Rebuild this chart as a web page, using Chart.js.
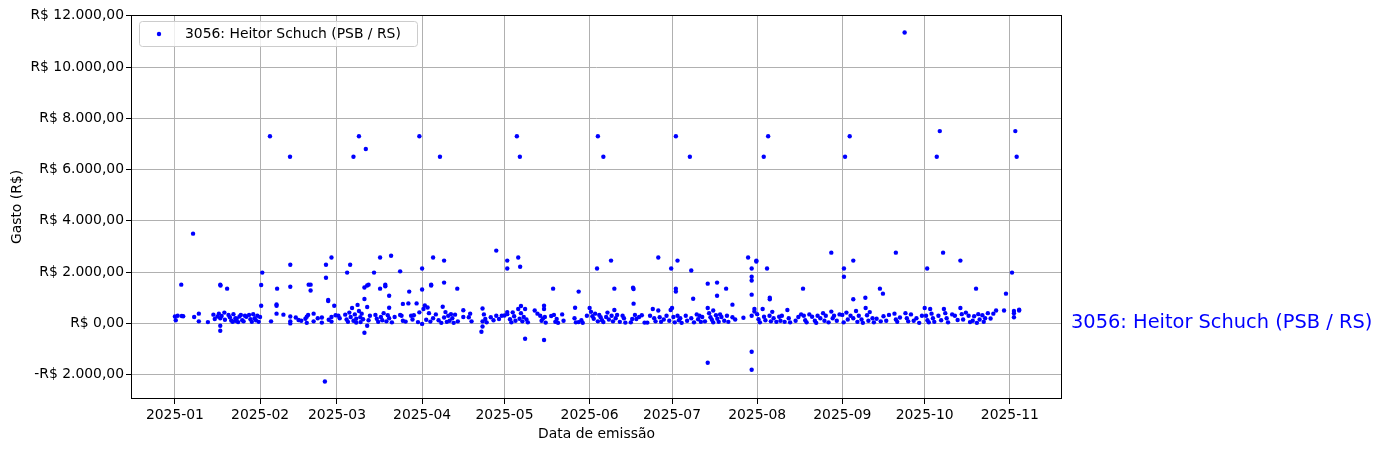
<!DOCTYPE html>
<html>
<head>
<meta charset="utf-8">
<script src="https://cdn.jsdelivr.net/npm/chart.js@4"></script>
<style>
  html, body { margin: 0; padding: 0; background: #fff; }
  #wrap { width: 1383px; height: 452px; position: relative; }
</style>
</head>
<body>
<div id="wrap"><canvas id="grafico"></canvas></div>
<script>
// Series label
const rotuloSerie = '3056: Heitor Schuch (PSB / RS)';

// X ticks: days since 2025-01-01 of each month start, and their labels
const inicioMeses = [0, 31, 59, 90, 120, 151, 181, 212, 243, 273, 304];
const rotulosMeses = ['2025-01', '2025-02', '2025-03', '2025-04', '2025-05', '2025-06',
    '2025-07', '2025-08', '2025-09', '2025-10', '2025-11'];

// Y ticks (R$)
const ticksGasto = [-2000, 0, 2000, 4000, 6000, 8000, 10000, 12000];

// Points per month: [days since 2025-01-01, amount in R$]
const pontosJan = [
    [2.3, 1510], [6.6, 3500], [16.5, 1510], [16.6, 1480], [19, 1355],
    [0, 270], [0.3, 120], [1, 300], [2.5, 290], [3, 280], [7, 250], [8.7, 380], [8.7, 80],
    [12, 50], [14, 340], [14.5, 170], [15.5, 270], [16, 380], [16.5, 200], [17, 290],
    [18, 420], [18.2, 140], [16.5, -90], [16.5, -285], [19.5, 330], [20, 240], [20.5, 110],
    [21, 60], [21.3, 360], [22, 100], [22, 200], [22.5, 180], [23, 50], [23.5, 270],
    [24, 330], [24.5, 120], [25, 80], [25.5, 300], [26, 260], [27, 330], [27.5, 160],
    [28, 60], [28.5, 360], [29, 200], [29.5, 120], [30, 300], [30.5, 60], [31, 250],
    [31.4, 690], [31.4, 1500], [31.8, 1980]
];
const pontosFev = [
    [34.6, 7300], [35, 80], [37, 380], [37, 740], [37.2, 1355], [37, 690], [41.9, 6500],
    [42, 2290], [42, 1430], [39.5, 340], [42, 270], [42, 80], [42, 0], [44, 230], [45, 130],
    [46, 100], [47.5, 180], [48, 260], [48.5, 330], [48, 20], [48.7, 1510], [49.4, 1510],
    [49.4, 1280], [50.5, 380], [50.5, 80], [52, 200], [53.5, 230], [53.5, 30],
    [54.6, -2270], [55, 2290], [55, 1780], [55.8, 910], [55.8, 870], [56, 140],
    [57, 2570], [57, 250], [57, 70], [58, 690], [58.5, 320]
];
const pontosMar = [
    [59.5, 300], [60, 200], [62.7, 1980], [63.8, 2290], [62, 340], [62.5, 150], [63, 60],
    [63.5, 420], [64, 250], [64.5, 600], [65, 100], [65, 6500], [65.5, 350], [66, 180],
    [66, 30], [66.5, 720], [67, 7300], [67, 480], [67.5, 240], [67.6, 50], [68, 380],
    [68.5, 160], [69, 950], [69, 1400], [69.5, 6800], [70.5, 1510], [70, 1480], [69, -365],
    [70, -90], [70, 640], [70.5, 120], [71, 300], [72.5, 1980], [73, 330], [73.5, 180],
    [74, 60], [74.7, 2570], [74.7, 1355], [75, 250], [75.5, 120], [76, 400], [76.6, 1510],
    [76.6, 1450], [77, 80], [77.5, 320], [78, 1080], [78, 610], [78.7, 2640], [78, 200],
    [79, 40], [80, 250], [82, 2030], [82, 330], [82.5, 300], [83, 100], [84, 70],
    [85.3, 1240], [85, 780], [83, 760], [86, 300], [86.5, 150], [87, 320], [88, 780],
    [89, 7300], [89, 430], [88.5, 50]
];
const pontosAbr = [
    [90, 2140], [90, 1320], [90, -20], [90.5, 560], [91, 700], [91.5, 140], [92, 620],
    [92.5, 400], [93, 70], [93.3, 1510], [93.3, 1480], [94, 2570], [94, 200], [95, 350],
    [96, 120], [96.5, 6500], [97, 20], [97.5, 650], [98, 2450], [98, 1590], [98, 230],
    [98.5, 440], [99, 60], [99.5, 300], [100, 100], [100.5, 360], [101, 200], [101.5, 20],
    [102.8, 1355], [102, 340], [103, 80], [105, 510], [105, 250], [107, 240], [107.5, 380],
    [108, 80], [111.6, -325], [112, -120], [112, 80], [112, 580], [112.5, 350], [113, 170],
    [113.5, 40], [115, 240], [116, 120], [117, 2840], [117, 300], [118, 170], [119, 300]
];
const pontosMai = [
    [121, 2450], [121, 2140], [121, 440], [121, 360], [120, 310], [122, 160], [122.5, 40],
    [123, 430], [123.5, 280], [124, 100], [124.5, 7300], [125, 2570], [125, 560],
    [125.5, 180], [125.6, 6500], [125.7, 2210], [126, 680], [126, 400], [126.5, 80],
    [127, 250], [127.5, -600], [127.5, 560], [128, 150], [128.5, 40], [131, 500],
    [132, 380], [133, 300], [133.5, 100], [134, 190], [134.4, 690], [134.4, 560],
    [134.4, -650], [134.7, 250], [135, 30], [137, 290], [137.7, 1355], [138, 330],
    [138.5, 60], [139, 170], [139.5, 20], [141, 350], [141.5, 100], [145.7, 610],
    [145.5, 200], [146, 40], [147, 1240], [147, 50], [148, 120], [148.5, 20], [150, 300]
];
const pontosJun = [
    [151, 600], [151.5, 450], [152, 280], [152.5, 180], [153, 380], [153.7, 2140],
    [154, 7300], [154, 80], [154.5, 330], [155, 240], [155.5, 120], [156, 6500], [156, 50],
    [157, 250], [157.5, 420], [158, 150], [158.8, 2450], [159, 300], [159.5, 80],
    [160, 1355], [160, 520], [160.5, 200], [161, 330], [162, 60], [163, 300], [163.5, 200],
    [164, 30], [166, 40], [166.5, 170], [166.8, 1390], [167, 1340], [167, 770],
    [167.5, 330], [168, 170], [169, 250], [170, 320], [171, 30], [172, 30], [173, 300],
    [174, 560], [174.5, 200], [175, 80], [176, 2570], [176, 500], [176.5, 240], [177, 60],
    [178, 150], [179, 300], [180.7, 2140], [180.5, 520], [180, 100]
];
const pontosJul = [
    [181, 600], [181.5, 250], [182, 40], [182.4, 1355], [182.4, 1240], [182.4, 7300],
    [183, 2450], [183, 300], [183.5, 120], [184, 200], [184.5, 20], [186, 300],
    [186.5, 100], [187.5, 6500], [188, 2060], [188, 200], [188.7, 960], [189, 40],
    [190, 350], [190.5, 160], [191, 300], [191.5, 60], [192, 250], [193, 80], [194, 1550],
    [194, -1535], [194, 600], [194.5, 400], [195, 240], [195.5, 140], [196, 500], [196, 40],
    [197, 320], [197.4, 1590], [197.4, 1080], [197.5, 180], [198, 60], [198.5, 350],
    [199, 250], [200, 100], [200.7, 1355], [201, 300], [201.5, 60], [203, 730], [203, 240],
    [204, 150], [207, 220], [208.7, 2570], [210, 2140], [210, 1820], [210, 1670],
    [210, 1120], [210, -1105], [210, -1810], [210, 300], [211, 560], [211, 460]
];
const pontosAgo = [
    [211.7, 2450], [211.7, 2410], [212, 360], [212.5, 160], [213, 40], [214, 560],
    [214.4, 6500], [214.5, 260], [215, 120], [215.6, 2140], [216, 7300], [216.6, 1000],
    [216.6, 940], [216.5, 300], [217, 80], [217.5, 450], [218, 200], [219, 60], [220, 260],
    [220.5, 100], [221, 300], [222, 60], [223, 520], [223.5, 200], [224, 40], [226, 100],
    [227, 250], [228, 350], [228.7, 1355], [229, 300], [229.5, 120], [230, 40], [231, 350],
    [232, 260], [233, 100], [233.5, 20], [234, 300], [235, 200], [236, 400], [236.5, 100],
    [237, 300], [238, 40], [239, 2760], [239, 460], [239.5, 200], [240, 300], [241, 100],
    [242, 350]
];
const pontosSet = [
    [243.6, 2140], [243.6, 1820], [243, 330], [243.5, 40], [244, 6500], [244.5, 420],
    [245, 150], [245.7, 7300], [246, 300], [247, 2450], [247, 940], [247, 200], [248, 480],
    [248.5, 60], [249, 300], [250, 150], [250.5, 20], [251.4, 1000], [251.5, 600],
    [252, 320], [252.5, 100], [253, 440], [254, 200], [254.5, 40], [255.5, 180],
    [256.7, 1355], [257, 80], [257.8, 1160], [258, 280], [259, 100], [260, 330],
    [262.5, 2760], [262, 380], [262.5, 150], [263, 60], [264, 230], [265.7, 11350],
    [266, 400], [266.5, 200], [267, 80], [268, 350], [269, 100], [270, 200], [271, 20],
    [272, 300]
];
const pontosOut = [
    [273.9, 2140], [273, 600], [273.5, 300], [274, 120], [274.5, 40], [275, 560],
    [275.5, 380], [276, 200], [276.5, 60], [277.4, 6500], [278, 300], [278.5, 7500],
    [279, 120], [279.7, 2760], [280, 560], [280.5, 400], [281, 200], [281.5, 40],
    [283, 350], [284, 300], [285, 130], [286, 2450], [286, 600], [286.5, 360], [287, 150],
    [288, 420], [289, 300], [289.5, 50], [290.5, 100], [291, 280], [291.7, 1355], [292, 20],
    [292.5, 360], [293, 150], [294, 320], [294.5, 60], [295, 200], [296, 400], [297, 190],
    [298, 380], [299, 500], [301.9, 500], [302.6, 1160]
];
const pontosNov = [
    [304.8, 1980], [305.5, 480], [305.5, 400], [305.5, 240], [306, 7500], [306.5, 6500],
    [307.4, 530], [307.4, 500]
];

const todosPontos = [].concat(pontosJan, pontosFev, pontosMar, pontosAbr, pontosMai,
    pontosJun, pontosJul, pontosAgo, pontosSet, pontosOut, pontosNov)
    .map(p => ({ x: p[0], y: p[1] }));

function formatarReal(v) {
    const inteiro = Math.abs(Math.round(v)).toString().replace(/\B(?=(\d{3})+(?!\d))/g, '.');
    return (v < 0 ? '-' : '') + 'R$ ' + inteiro + ',00';
}

Chart.defaults.font.family = '"DejaVu Sans", sans-serif';
Chart.defaults.font.size = 13.9;
Chart.defaults.color = '#000';

// Frame, legend box and right-hand label
const decoracao = {
    id: 'decoracao',
    afterDraw(chart) {
        const { ctx, chartArea: a, scales } = chart;
        ctx.save();
        ctx.strokeStyle = '#000';
        ctx.lineWidth = 1;
        ctx.strokeRect(a.left + 0.5, a.top + 0.5, a.right - a.left - 1, a.bottom - a.top - 1);

        // legend
        ctx.beginPath();
        ctx.roundRect(139.5, 21.5, 278, 25, 3);
        ctx.fillStyle = 'rgba(255,255,255,0.8)';
        ctx.fill();
        ctx.strokeStyle = '#cccccc';
        ctx.stroke();
        ctx.beginPath();
        ctx.arc(159, 34, 2.2, 0, Math.PI * 2);
        ctx.fillStyle = 'blue';
        ctx.fill();
        ctx.fillStyle = '#000';
        ctx.font = '13.9px "DejaVu Sans"';
        ctx.textBaseline = 'middle';
        ctx.fillText(rotuloSerie, 185, 34);

        // label at the zero line
        ctx.fillStyle = 'blue';
        ctx.font = '19.4px "DejaVu Sans"';
        ctx.fillText(rotuloSerie, a.right + 9, scales.y.getPixelForValue(0));
        ctx.restore();
    }
};

new Chart(document.getElementById('grafico'), {
    type: 'scatter',
    data: {
        datasets: [{
            label: rotuloSerie,
            data: todosPontos,
            backgroundColor: 'blue',
            borderColor: 'blue',
            borderWidth: 0,
            pointRadius: 2.2
        }]
    },
    options: {
        responsive: true,
        maintainAspectRatio: false,
        animation: false,
        layout: { padding: { top: 15, right: 321, left: 0, bottom: 0 } },
        plugins: { legend: { display: false }, tooltip: { enabled: false } },
        scales: {
            x: {
                type: 'linear',
                min: -16,
                max: 323,
                afterBuildTicks: s => { s.ticks = inicioMeses.map(v => ({ value: v })); },
                afterFit: s => { s.height = 53; },
                ticks: {
                    padding: 3,
                    maxRotation: 0,
                    autoSkip: false,
                    callback: v => rotulosMeses[inicioMeses.indexOf(v)]
                },
                grid: { color: '#b0b0b0', tickColor: '#000', tickLength: 5 },
                border: { display: false },
                title: { display: true, text: 'Data de emissão', padding: { top: 0, bottom: 9 } }
            },
            y: {
                min: -2950,
                max: 12030,
                afterBuildTicks: s => { s.ticks = ticksGasto.map(v => ({ value: v })); },
                afterFit: s => { s.width = 131; },
                ticks: { padding: 2, callback: v => formatarReal(v) },
                grid: { color: '#b0b0b0', tickColor: '#000', tickLength: 5 },
                border: { display: false },
                title: { display: true, text: 'Gasto (R$)', padding: { top: 9, bottom: 0 } }
            }
        }
    },
    plugins: [decoracao]
});
</script>
</body>
</html>
